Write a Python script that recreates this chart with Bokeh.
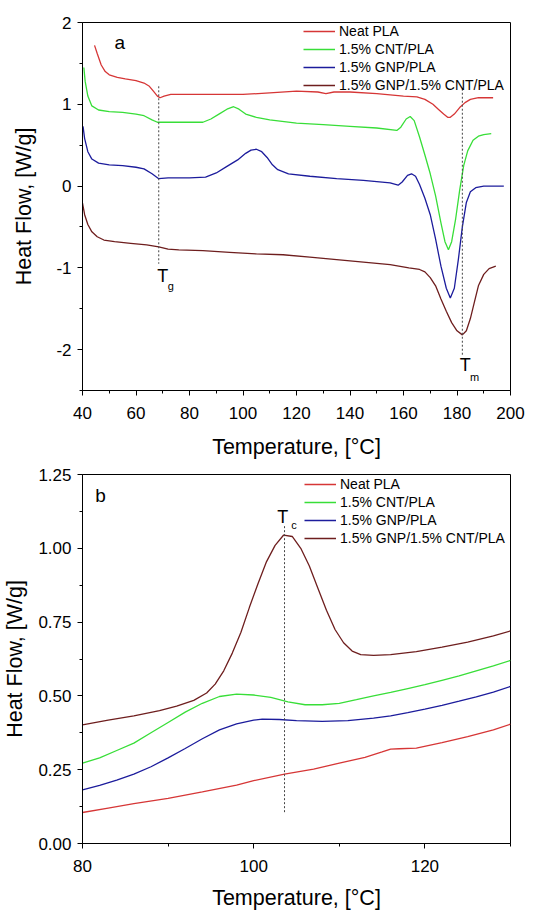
from bokeh.plotting import figure
from bokeh.layouts import column
from bokeh.models import Range1d, FixedTicker, Legend, LegendItem
from bokeh.core.properties import value
from bokeh.embed import file_html
from bokeh.resources import INLINE

FONT = "Liberation Sans"

series_names = ["Neat PLA", "1.5% CNT/PLA", "1.5% GNP/PLA", "1.5% GNP/1.5% CNT/PLA"]
series_colors = ["#d63636", "#38de38", "#1c1c9c", "#6e1e1e"]

# ---------------- panel a : heating scan ----------------
a_neat_x = [44.5, 45.5, 47, 48.5, 50, 53, 56, 60, 63, 65, 66.5, 68, 69, 70.5, 73, 80, 90, 100, 110, 120,
            128, 131, 134, 140, 150, 160, 165, 168, 171, 173, 175, 176.5, 177.5, 179, 181, 183, 185, 188, 193.5]
a_neat_y = [1.72, 1.62, 1.48, 1.40, 1.36, 1.33, 1.31, 1.29, 1.26, 1.22, 1.16, 1.10, 1.08, 1.10, 1.12, 1.12, 1.12, 1.12, 1.14, 1.16,
            1.15, 1.13, 1.15, 1.15, 1.13, 1.10, 1.09, 1.06, 1.00, 0.94, 0.88, 0.84, 0.84, 0.88, 0.96, 1.02, 1.06, 1.08, 1.08]

a_cnt_x = [40.5, 41, 42, 43.5, 46, 50, 55, 60, 63, 66, 68, 72, 80, 85, 88, 91, 94, 96.5, 98.5, 101, 105, 110, 120,
           130, 140, 150, 157.5, 159, 161, 162.5, 164, 166, 168, 170, 172, 174, 175.5, 176.8, 178, 179.5, 181,
           182.5, 184, 186, 188, 190, 192.8]
a_cnt_y = [1.45, 1.28, 1.10, 0.98, 0.93, 0.91, 0.90, 0.88, 0.86, 0.81, 0.78, 0.78, 0.78, 0.78, 0.82, 0.88, 0.94, 0.97, 0.94, 0.88, 0.84, 0.81, 0.77,
           0.75, 0.73, 0.71, 0.68, 0.72, 0.82, 0.85, 0.80, 0.60, 0.38, 0.15, -0.12, -0.45, -0.68, -0.78, -0.68, -0.40, -0.05,
           0.25, 0.43, 0.56, 0.61, 0.63, 0.64]

a_gnp_x = [40.2, 40.8, 42, 43.5, 46, 50, 55, 60, 63, 66, 68.5, 72, 80, 86, 90, 94, 98, 101, 103, 105, 107, 109, 111, 113,
           117, 125, 135, 145, 155, 158, 159.5, 161.5, 163, 164.5, 166, 168, 170, 172, 174, 176, 177.5, 179, 180.5,
           182, 183.5, 185, 187, 190, 197.5]
a_gnp_y = [0.73, 0.58, 0.42, 0.33, 0.28, 0.26, 0.25, 0.23, 0.21, 0.15, 0.09, 0.10, 0.10, 0.11, 0.16, 0.24, 0.32, 0.40, 0.44, 0.45, 0.42, 0.35, 0.26, 0.20,
           0.15, 0.12, 0.09, 0.07, 0.04, 0.01, 0.05, 0.13, 0.15, 0.12, 0.02, -0.15, -0.35, -0.65, -0.98, -1.25, -1.37, -1.25, -0.90,
           -0.50, -0.20, -0.07, -0.02, 0.00, 0.00]

a_hyb_x = [40, 40.8, 42, 43.5, 45.5, 48, 52, 58, 64, 68.5, 72, 76, 85, 95, 105, 115, 125, 135, 145, 155, 162, 166,
           168, 170, 172, 174, 176, 178, 180, 182, 183.5, 185, 186.5, 188, 190, 192, 194.5]
a_hyb_y = [-0.21, -0.35, -0.47, -0.56, -0.62, -0.66, -0.68, -0.70, -0.72, -0.745, -0.77, -0.78, -0.79, -0.81, -0.83, -0.84, -0.87, -0.90, -0.93, -0.96, -1.00, -1.02,
           -1.05, -1.12, -1.22, -1.38, -1.53, -1.67, -1.77, -1.82, -1.77, -1.62, -1.42, -1.22, -1.08, -1.01, -0.98]

a_xticks = [40, 60, 80, 100, 120, 140, 160, 180, 200]
a_xminor = [50, 70, 90, 110, 130, 150, 170, 190]
a_yticks = [-2, -1, 0, 1, 2]
a_yminor = [-2.5, -1.5, -0.5, 0.5, 1.5]
a_ylabels = ["-2", "-1", "0", "1", "2"]

a_guides_x = [68.5, 182.0]
a_guides_y0 = [1.22, 1.19]
a_guides_y1 = [-0.95, -2.08]
a_T_x = [70.0, 183.1]
a_T_y = [-1.10, -2.19]
a_sub_x = [71.9, 184.9]
a_sub_y = [-1.22, -2.33]
a_sub_text = ["g", "m"]
a_tag = ("a", 52.0, 1.75)

# ---------------- panel b : cooling scan ----------------
b_neat_x = [80, 83, 86, 90, 94, 98, 100, 103.6, 107, 110, 113, 115, 116, 117, 119, 122, 125, 128, 130]
b_neat_y = [0.105, 0.120, 0.135, 0.153, 0.175, 0.198, 0.213, 0.235, 0.252, 0.272, 0.292, 0.310, 0.320, 0.321, 0.323, 0.342, 0.362, 0.385, 0.404]

b_cnt_x = [80, 82, 84, 86, 88, 90, 92, 94, 96, 98, 100, 102, 104, 106, 108, 110, 112, 114, 116, 118, 120, 122, 124, 126, 128, 130]
b_cnt_y = [0.272, 0.290, 0.315, 0.340, 0.375, 0.410, 0.445, 0.475, 0.498, 0.506, 0.503, 0.495, 0.480, 0.470, 0.470, 0.475,
           0.487, 0.500, 0.512, 0.525, 0.538, 0.553, 0.568, 0.585, 0.602, 0.620]

b_gnp_x = [80, 82, 84, 86, 88, 90, 92, 94, 96, 98, 100, 101, 103, 105, 108, 111, 114, 116, 118, 120, 122, 124, 126, 128, 130]
b_gnp_y = [0.182, 0.197, 0.215, 0.235, 0.260, 0.290, 0.322, 0.355, 0.385, 0.405, 0.418, 0.421, 0.420, 0.416, 0.414, 0.416,
           0.425, 0.432, 0.443, 0.455, 0.468, 0.482, 0.497, 0.513, 0.532]

b_hyb_x = [80, 83, 86, 89, 91, 93, 94.5, 95.5, 96.5, 97.5, 98.5, 99.5, 100.5, 101.5, 102.5, 103.5, 104.5, 105.5, 106.5,
           107.5, 108.5, 109.5, 110.5, 111.5, 112.5, 114, 116, 119, 122, 125, 128, 130]
b_hyb_y = [0.402, 0.418, 0.432, 0.450, 0.465, 0.485, 0.510, 0.540, 0.585, 0.645, 0.715, 0.800, 0.880, 0.955, 1.010, 1.045, 1.040,
           1.000, 0.940, 0.865, 0.790, 0.725, 0.680, 0.652, 0.640, 0.637, 0.640, 0.650, 0.665, 0.682, 0.703, 0.720]

b_xticks = [80, 100, 120]
b_xminor = [90, 110, 130]
b_yticks = [0.0, 0.25, 0.5, 0.75, 1.0, 1.25]
b_yminor = [0.125, 0.375, 0.625, 0.875, 1.125]
b_ylabels = ["0.00", "0.25", "0.50", "0.75", "1.00", "1.25"]

b_guides_x = [103.6]
b_guides_y0 = [1.075]
b_guides_y1 = [0.105]
b_T_x = [103.4]
b_T_y = [1.105]
b_sub_x = [104.4]
b_sub_y = [1.078]
b_sub_text = ["c"]
b_tag = ("b", 81.5, 1.18)

X_TITLE = "Temperature, [°C]"
Y_TITLE = "Heat Flow, [W/g]"


def make_panel(xs, ys, xr, yr, xt, xm, yt, ym, ylabels, fw, fh, bl, bt, bb, xstand, ystand,
               gx, gy0, gy1, tx, ty, sx, sy, stext, tag, leg_loc):
    p = figure(frame_width=fw, frame_height=fh, x_range=Range1d(*xr), y_range=Range1d(*yr),
               output_backend="svg", toolbar_location=None,
               min_border_left=bl, min_border_right=20, min_border_top=bt, min_border_bottom=bb)
    p.xgrid.visible = False
    p.ygrid.visible = False
    p.outline_line_color = "black"
    p.outline_line_width = 1
    p.background_fill_color = "white"
    p.border_fill_color = "white"

    p.xaxis.ticker = FixedTicker(ticks=xt, minor_ticks=xm)
    p.yaxis.ticker = FixedTicker(ticks=yt, minor_ticks=ym)
    p.yaxis.major_label_overrides = {float(v): s for v, s in zip(yt, ylabels)}
    p.xaxis.major_label_overrides = {float(v): str(v) for v in xt}
    for ax in (p.xaxis[0], p.yaxis[0]):
        ax.axis_line_color = "black"
        ax.major_tick_line_color = "black"
        ax.minor_tick_line_color = "black"
        ax.major_tick_in = 0
        ax.major_tick_out = 5
        ax.minor_tick_in = 0
        ax.minor_tick_out = 3
        ax.major_label_text_font = FONT
        ax.major_label_text_font_size = "17px"
        ax.major_label_text_color = "black"
        ax.axis_label_text_font = FONT
        ax.axis_label_text_font_size = "21.5px"
        ax.axis_label_text_font_style = "normal"
        ax.axis_label_text_color = "black"
    p.xaxis.axis_label = X_TITLE
    p.yaxis.axis_label = Y_TITLE
    p.xaxis.major_label_standoff = 11
    p.yaxis.major_label_standoff = 6
    p.xaxis.axis_label_standoff = xstand
    p.yaxis.axis_label_standoff = ystand

    items = []
    for x, y, name, col in zip(xs, ys, series_names, series_colors):
        r = p.line(x, y, line_color=col, line_width=1.3)
        items.append(LegendItem(label=name, renderers=[r]))

    p.segment(x0=gx, y0=gy0, x1=gx, y1=gy1, line_color="#444444", line_width=1, line_dash="2 2")
    p.text(x=tx, y=ty, text=["T"] * len(tx), text_font=value(FONT), text_font_size="18px",
           text_align="center", text_baseline="middle", text_color="black")
    p.text(x=sx, y=sy, text=stext, text_font=value(FONT), text_font_size="11px",
           text_align="left", text_baseline="middle", text_color="black")
    p.text(x=[tag[1]], y=[tag[2]], text=[tag[0]], text_font=value(FONT), text_font_size="19px",
           text_align="left", text_baseline="middle", text_color="black")

    leg = Legend(items=items, location=leg_loc, padding=0, margin=0, spacing=0,
                 glyph_width=32, glyph_height=18, label_height=18, label_standoff=4,
                 label_text_font=FONT, label_text_font_size="14px", label_text_color="black",
                 background_fill_alpha=0, border_line_alpha=0)
    p.add_layout(leg)
    return p


p1 = make_panel([a_neat_x, a_cnt_x, a_gnp_x, a_hyb_x], [a_neat_y, a_cnt_y, a_gnp_y, a_hyb_y],
                (40, 200), (-2.5, 2), a_xticks, a_xminor, a_yticks, a_yminor, a_ylabels,
                428, 368, 80, 22, 70, 13, 17,
                a_guides_x, a_guides_y0, a_guides_y1, a_T_x, a_T_y, a_sub_x, a_sub_y, a_sub_text, a_tag,
                (221, 296))
p2 = make_panel([b_neat_x, b_cnt_x, b_gnp_x, b_hyb_x], [b_neat_y, b_cnt_y, b_gnp_y, b_hyb_y],
                (80, 130), (0, 1.25), b_xticks, b_xminor, b_yticks, b_yminor, b_ylabels,
                428, 369, 80, 13, 67, 11, 8,
                b_guides_x, b_guides_y0, b_guides_y1, b_T_x, b_T_y, b_sub_x, b_sub_y, b_sub_text, b_tag,
                (222, 296))

layout = column(p1, p2, spacing=0)
with open("out.html", "w") as f:
    f.write(file_html(layout, INLINE))
